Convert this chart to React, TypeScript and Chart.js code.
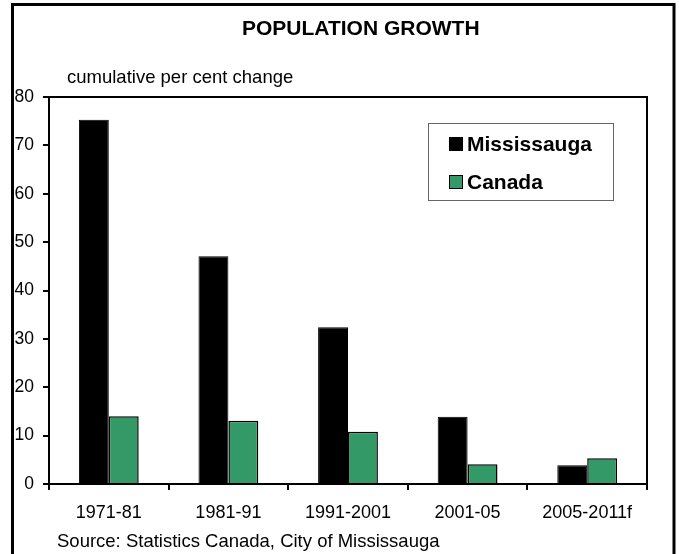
import React, { useEffect, useRef } from "react";
import { Chart, registerables } from "chart.js";

Chart.register(...registerables);

const categories = ["1971-81", "1981-91", "1991-2001", "2001-05", "2005-2011f"];
const mississauga = [75.3, 47.1, 32.4, 13.9, 3.9];
const canada = [14.0, 13.1, 10.8, 4.1, 5.3];
const seriesNames = ["Mississauga", "Canada"];
const titleText = "POPULATION GROWTH";
const unitText = "cumulative per cent change";
const sourceText = "Source: Statistics Canada, City of Mississauga";

const FONT = "'Liberation Sans', Arial, sans-serif";
const GREEN = "#339966";

// Frame, headings, plot box and legend drawn around the bars
const decorations = {
  id: "decorations",
  afterDatasetsDraw(chart: any) {
    const { ctx, chartArea } = chart;
    ctx.save();
    // plot box (top and right sides; left/bottom come from the axes)
    ctx.strokeStyle = "#000";
    ctx.lineWidth = 2;
    ctx.beginPath();
    ctx.moveTo(chartArea.left, chartArea.top);
    ctx.lineTo(chartArea.right, chartArea.top);
    ctx.lineTo(chartArea.right, chartArea.bottom);
    ctx.stroke();

    // legend box
    const lx = 428.5, ly = 123.5, lw = 185, lh = 77;
    ctx.fillStyle = "#fff";
    ctx.fillRect(lx, ly, lw, lh);
    ctx.strokeStyle = "#666";
    ctx.lineWidth = 1;
    ctx.strokeRect(lx, ly, lw, lh);
    const swatches = ["#000", GREEN];
    const rows = [151, 189];
    ctx.font = `bold 21px ${FONT}`;
    ctx.textBaseline = "alphabetic";
    ctx.textAlign = "left";
    seriesNames.forEach((name, i) => {
      const base = rows[i];
      ctx.fillStyle = swatches[i];
      ctx.fillRect(449, base - 14, 14, 14);
      ctx.strokeStyle = "#000";
      ctx.lineWidth = 1;
      ctx.strokeRect(449.5, base - 13.5, 13, 13);
      ctx.fillStyle = "#000";
      ctx.fillText(name, 467, base);
    });
    ctx.restore();
  },
  afterDraw(chart: any) {
    const { ctx, height } = chart;
    ctx.save();
    ctx.fillStyle = "#000";
    ctx.textBaseline = "alphabetic";
    ctx.font = `bold 21px ${FONT}`;
    ctx.textAlign = "left";
    ctx.fillText(titleText, 242, 35);
    ctx.font = `18.5px ${FONT}`;
    ctx.fillText(unitText, 67, 83);
    ctx.fillText(sourceText, 57, 547);

    // outer frame, open at the bottom
    ctx.strokeStyle = "#000";
    ctx.lineWidth = 3;
    ctx.beginPath();
    ctx.moveTo(12.5, height);
    ctx.lineTo(12.5, 4.5);
    ctx.lineTo(674, 4.5);
    ctx.lineTo(674, height);
    ctx.stroke();
    ctx.restore();
  },
};

export default function App() {
  const canvasRef = useRef<HTMLCanvasElement | null>(null);

  useEffect(() => {
    const canvas = canvasRef.current;
    if (!canvas) return;
    const chart = new Chart(canvas, {
      type: "bar",
      data: {
        labels: categories,
        datasets: [
          {
            label: seriesNames[0],
            data: mississauga,
            backgroundColor: "#000",
            borderColor: "#000",
            borderWidth: 1,
            categoryPercentage: 0.5,
            barPercentage: 1,
          },
          {
            label: seriesNames[1],
            data: canada,
            backgroundColor: GREEN,
            borderColor: "#000",
            borderWidth: 1.5,
            categoryPercentage: 0.5,
            barPercentage: 1,
          },
        ],
      },
      options: {
        responsive: false,
        animation: false,
        events: [],
        layout: { padding: { left: 0, top: 97, right: 32, bottom: 0 } },
        plugins: {
          legend: { display: false },
          title: { display: false },
          tooltip: { enabled: false },
        },
        scales: {
          x: {
            afterFit(scale: any) {
              scale.height = 70;
            },
            grid: {
              offset: true,
              drawOnChartArea: false,
              drawTicks: true,
              tickLength: 6,
              color: "#000",
              lineWidth: 2,
            },
            border: { display: true, color: "#000", width: 2 },
            ticks: {
              color: "#000",
              font: { family: FONT, size: 18 },
              padding: 12,
              maxRotation: 0,
              autoSkip: false,
            },
          },
          y: {
            min: 0,
            max: 80,
            afterFit(scale: any) {
              scale.width = 49;
            },
            grid: {
              drawOnChartArea: false,
              drawTicks: true,
              tickLength: 6,
              color: "#000",
              lineWidth: 2,
            },
            border: { display: true, color: "#000", width: 2 },
            ticks: {
              stepSize: 10,
              color: "#000",
              font: { family: FONT, size: 17.5 },
              padding: 9,
            },
          },
        },
      },
      plugins: [decorations],
    });
    return () => chart.destroy();
  }, []);

  return (
    <div style={{ position: "absolute", left: 0, top: 0, width: 679, height: 554, background: "#fff" }}>
      <canvas ref={canvasRef} width={679} height={554} style={{ width: 679, height: 554, display: "block" }} />
    </div>
  );
}
